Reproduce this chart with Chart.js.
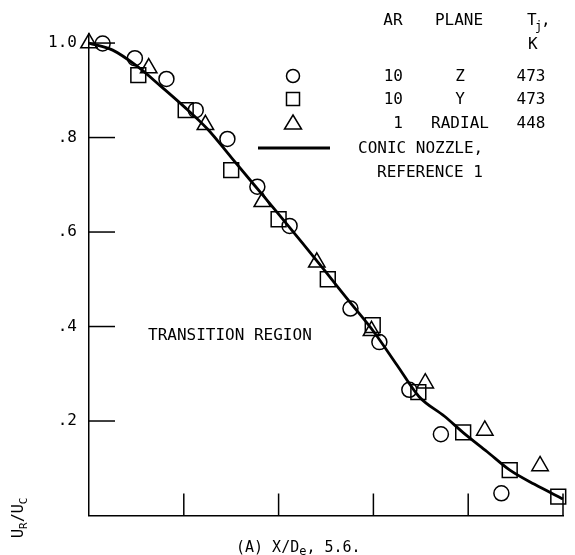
<!DOCTYPE html>
<html>
<head>
<meta charset="utf-8">
<script src="https://cdn.jsdelivr.net/npm/chart.js@4"></script>
<style>
html, body { margin: 0; padding: 0; background: #fff; }
</style>
</head>
<body>
<canvas id="chart" width="575" height="555"></canvas>
<script>
// AR 10, plane Z, 473 K
const circleX = [0.144, 0.484, 0.817, 1.126, 1.46, 1.776, 2.116, 2.758, 3.063, 3.379, 3.712, 4.35];
const circleY = [0.999, 0.968, 0.924, 0.858, 0.797, 0.696, 0.613, 0.438, 0.367, 0.266, 0.172, 0.047];
// AR 10, plane Y, 473 K
const squareX = [0.52, 1.02, 1.50, 2.0, 2.519, 2.993, 3.474, 3.947, 4.438, 4.95];
const squareY = [0.932, 0.858, 0.731, 0.627, 0.5, 0.403, 0.261, 0.176, 0.096, 0.04];
// AR 1, radial, 448 K
const triangleX = [0.0, 0.63, 1.228, 1.828, 2.403, 2.98, 3.547, 4.175, 4.758];
const triangleY = [1.0, 0.947, 0.827, 0.664, 0.536, 0.391, 0.28, 0.18, 0.105];
// conic nozzle, reference 1
const curveX = [0, 0.25, 0.5, 0.75, 1.0, 1.25, 1.5, 1.75, 2.0, 2.25, 2.5, 2.75, 3.0, 3.25, 3.48, 3.75, 3.95, 4.2, 4.44, 4.7, 5.0];
const curveY = [1.0, 0.985, 0.952, 0.91, 0.866, 0.818, 0.758, 0.698, 0.638, 0.577, 0.515, 0.452, 0.39, 0.318, 0.252, 0.21, 0.175, 0.135, 0.096, 0.066, 0.035];

const yTicks = [0.2, 0.4, 0.6, 0.8, 1.0];
const yTickLabels = ['.2', '.4', '.6', '.8', '1.0'];
const xTicks = [1, 2, 3, 4, 5];

const legendAR = ['10', '10', '1'];
const legendPlane = ['Z', 'Y', 'RADIAL'];
const legendTemp = ['473', '473', '448'];

const toPts = (xs, ys) => xs.map((v, i) => ({x: v, y: ys[i]}));

const FONT = '"DejaVu Sans Mono", monospace';

const decorations = {
  id: 'decorations',
  afterDraw(chart) {
    const {ctx, scales: {x, y}} = chart;
    ctx.save();
    ctx.strokeStyle = '#000';
    ctx.lineWidth = 1.5;
    // inward ticks
    yTicks.forEach(v => {
      const py = y.getPixelForValue(v);
      ctx.beginPath(); ctx.moveTo(x.left, py); ctx.lineTo(x.left + 26, py); ctx.stroke();
    });
    xTicks.forEach(v => {
      const px = x.getPixelForValue(v);
      ctx.beginPath(); ctx.moveTo(px, y.bottom); ctx.lineTo(px, y.bottom - 22); ctx.stroke();
    });

    ctx.fillStyle = '#000';
    ctx.textBaseline = 'middle';
    ctx.font = '16px ' + FONT;

    // legend header
    ctx.textAlign = 'center';
    ctx.fillText('AR', 393, 21);
    ctx.fillText('PLANE', 459, 21);
    ctx.textAlign = 'left';
    ctx.fillText('T', 527, 21);
    ctx.font = '12px ' + FONT;
    ctx.fillText('j', 535, 27);
    ctx.font = '16px ' + FONT;
    ctx.fillText(',', 541, 21);
    ctx.fillText('K', 528, 45);

    // legend rows
    const rowY = [77, 100, 124];
    rowY.forEach((ry, i) => {
      ctx.textAlign = 'right';
      ctx.fillText(legendAR[i], 403, ry);
      ctx.textAlign = 'center';
      ctx.fillText(legendPlane[i], 460, ry);
      ctx.fillText(legendTemp[i], 531, ry);
    });

    // legend symbols
    ctx.lineWidth = 1.5;
    ctx.beginPath(); ctx.arc(293, 76, 6.5, 0, Math.PI * 2); ctx.stroke();
    ctx.strokeRect(286.5, 92.5, 13, 13);
    ctx.beginPath();
    ctx.moveTo(293, 115); ctx.lineTo(301.5, 129); ctx.lineTo(284.5, 129); ctx.closePath(); ctx.stroke();
    ctx.lineWidth = 2.8;
    ctx.beginPath(); ctx.moveTo(258, 148); ctx.lineTo(330, 148); ctx.stroke();

    ctx.textAlign = 'left';
    ctx.fillText('CONIC NOZZLE,', 358, 149);
    ctx.fillText('REFERENCE 1', 377, 173);

    ctx.fillText('TRANSITION REGION', 148, 336);

    // x axis caption
    ctx.font = '15px ' + FONT;
    ctx.textAlign = 'left';
    let cx = 236;
    const cy = 548;
    ctx.fillText('(A) X/D', cx, cy);
    cx += ctx.measureText('(A) X/D').width;
    ctx.font = '12px ' + FONT;
    ctx.fillText('e', cx, cy + 4);
    cx += ctx.measureText('e').width;
    ctx.font = '15px ' + FONT;
    ctx.fillText(', 5.6.', cx, cy);

    // y axis caption, rotated
    ctx.save();
    ctx.translate(19, 538);
    ctx.rotate(-Math.PI / 2);
    ctx.textAlign = 'left';
    let tx = 0;
    const parts = [['U', 15, 0], ['R', 11, 5], ['/', 15, 0], ['U', 15, 0], ['C', 11, 5]];
    parts.forEach(([s, size, dy]) => {
      ctx.font = size + 'px ' + FONT;
      ctx.fillText(s, tx, dy);
      tx += ctx.measureText(s).width;
    });
    ctx.restore();

    ctx.restore();
  }
};

const markerBase = {
  borderColor: '#000',
  backgroundColor: 'rgba(0,0,0,0)',
  pointBorderWidth: 1.5,
  showLine: false,
  clip: false
};

new Chart(document.getElementById('chart'), {
  type: 'scatter',
  data: {
    datasets: [
      {
        label: 'CONIC NOZZLE, REFERENCE 1',
        data: toPts(curveX, curveY),
        showLine: true,
        borderColor: '#000',
        borderWidth: 2.8,
        pointRadius: 0,
        cubicInterpolationMode: 'monotone',
        clip: false
      },
      Object.assign({label: '10 Z 473', data: toPts(circleX, circleY), pointStyle: 'circle', pointRadius: 7.5}, markerBase),
      Object.assign({label: '10 Y 473', data: toPts(squareX, squareY), pointStyle: 'rect', pointRadius: 10.5}, markerBase),
      Object.assign({label: '1 RADIAL 448', data: toPts(triangleX, triangleY), pointStyle: 'triangle', pointRadius: 9.5}, markerBase)
    ]
  },
  options: {
    responsive: false,
    animation: false,
    layout: { padding: { top: 33.6, right: 10.7, left: 0, bottom: 0 } },
    plugins: { legend: { display: false }, tooltip: { enabled: false } },
    scales: {
      x: {
        type: 'linear',
        min: 0,
        max: 5,
        grid: { display: false },
        border: { display: true, color: '#000', width: 1.5 },
        ticks: { display: false },
        afterFit: s => { s.height = 39.5; }
      },
      y: {
        type: 'linear',
        min: 0,
        max: 1.02,
        grid: { display: false, drawTicks: false },
        border: { display: true, color: '#000', width: 1.5 },
        afterBuildTicks: s => { s.ticks = [0].concat(yTicks).map(v => ({value: v})); },
        ticks: {
          color: '#000',
          padding: 12,
          font: { family: FONT, size: 16 },
          callback: v => { const i = yTicks.indexOf(v); return i < 0 ? '' : yTickLabels[i]; }
        },
        afterFit: s => { s.width = 89; }
      }
    }
  },
  plugins: [decorations]
});
</script>
</body>
</html>
